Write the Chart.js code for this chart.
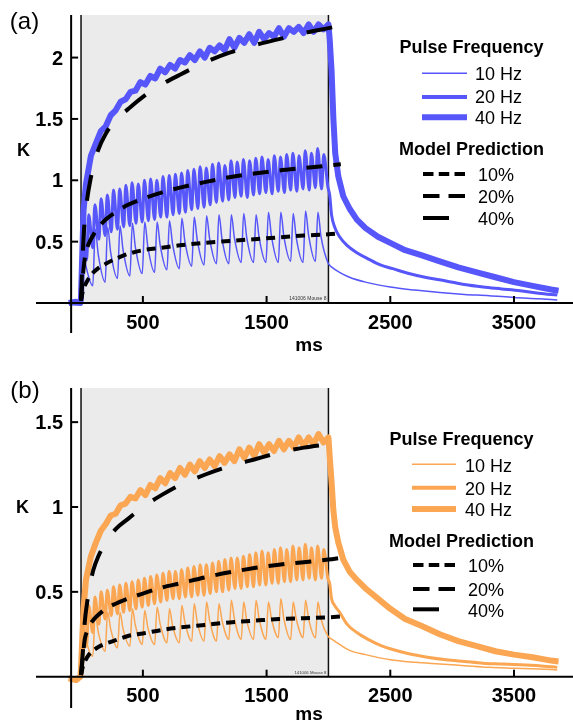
<!DOCTYPE html>
<html><head><meta charset="utf-8">
<script src="https://cdn.jsdelivr.net/npm/chart.js@4.4.1/dist/chart.umd.min.js"></script>
<style>
html,body{margin:0;padding:0;background:#fff;}
#wrap{position:relative;width:573px;height:728px;overflow:hidden;}
canvas{position:absolute;left:0;}
</style></head><body>
<div id="wrap">
<canvas id="ca" width="573" height="364" style="top:0"></canvas>
<canvas id="cb" width="573" height="364" style="top:364px"></canvas>
</div>
<script>
// ---------------- time bases (ms) ----------------
const t10 = [-100,-40,-5,
  15,40,95, 115,140,195, 215,240,295, 315,340,395, 415,440,495,
  515,540,595, 615,640,695, 715,740,795, 815,840,895, 915,940,995,
  1015,1040,1095, 1115,1140,1195, 1215,1240,1295, 1315,1340,1395, 1415,1440,1495,
  1515,1540,1595, 1615,1640,1695, 1715,1740,1795, 1815,1840,1895, 1915,1940,1995,
  2030,2090,2170,2300,2500,2700,2900,3100,3300,3500,3700,3850];
const t20 = [-100,-40,-5,
  12,45, 62,95, 112,145, 162,195, 212,245, 262,295, 312,345, 362,395, 412,445, 462,495,
  512,545, 562,595, 612,645, 662,695, 712,745, 762,795, 812,845, 862,895, 912,945, 962,995,
  1012,1045, 1062,1095, 1112,1145, 1162,1195, 1212,1245, 1262,1295, 1312,1345, 1362,1395, 1412,1445, 1462,1495,
  1512,1545, 1562,1595, 1612,1645, 1662,1695, 1712,1745, 1762,1795, 1812,1845, 1862,1895, 1912,1945, 1962,1995,
  2010,2025,2050,2090,2150,2230,2320,2420,2520,2650,2800,2950,3100,3250,3400,3550,3700,3850];
const t40 = [-100,-40,-5,
  0,20,40,80,120,160,200,240,280,320,360,400,440,480,520,560,600,640,680,720,760,800,840,880,920,960,1000,
  1040,1080,1120,1160,1200,1240,1280,1320,1360,1400,1440,1480,1520,1560,1600,1640,1680,1720,1760,1800,1840,1880,1920,1960,2000,
  2010,2025,2040,2055,2080,2120,2170,2230,2300,2400,2500,2620,2750,2900,3050,3200,3350,3500,3650,3800,3860];
const tModel = [0,15,30,50,75,100,140,200,280,380,500,650,800,1000,1200,1400,1600,1800,2000,2100];

// ---------------- panel (a) values ----------------
const a10Hz = [0,0.01,0,
  0.45,0.30,0.14, 0.60,0.39,0.17, 0.62,0.41,0.20, 0.63,0.43,0.22, 0.65,0.45,0.24,
  0.66,0.46,0.25, 0.66,0.47,0.27, 0.67,0.48,0.28, 0.69,0.50,0.30, 0.70,0.51,0.31,
  0.71,0.52,0.32, 0.72,0.52,0.32, 0.72,0.53,0.33, 0.73,0.53,0.33, 0.72,0.53,0.33,
  0.74,0.54,0.33, 0.74,0.54,0.34, 0.73,0.53,0.33, 0.75,0.55,0.34, 0.74,0.54,0.33,
  0.29,0.25,0.21,0.17,0.13,0.105,0.085,0.07,0.06,0.045,0.035,0.025];
const a20Hz = [0,-0.01,0,
  0.55,0.35, 0.72,0.45, 0.80,0.52, 0.85,0.55, 0.88,0.58, 0.92,0.60, 0.93,0.62, 0.96,0.63, 0.98,0.65, 0.97,0.66,
  1.00,0.67, 1.01,0.68, 1.00,0.70, 1.03,0.70, 1.04,0.72, 1.05,0.73, 1.06,0.74, 1.08,0.76, 1.09,0.77, 1.11,0.78,
  1.10,0.80, 1.13,0.82, 1.14,0.83, 1.12,0.84, 1.16,0.86, 1.15,0.87, 1.17,0.86, 1.16,0.88, 1.18,0.89, 1.19,0.90,
  1.17,0.89, 1.20,0.91, 1.19,0.90, 1.21,0.92, 1.22,0.91, 1.20,0.93, 1.24,0.92, 1.22,0.94, 1.26,0.93, 1.21,0.95,
  0.88,0.72,0.62,0.54,0.47,0.41,0.36,0.31,0.28,0.24,0.205,0.18,0.15,0.13,0.115,0.10,0.08,0.065];
const a40Hz = [0,0.01,0,
  0.05,0.75,0.97,1.20,1.30,1.40,1.44,1.53,1.57,1.64,1.66,1.72,1.73,1.80,1.78,1.85,1.83,1.91,1.88,1.94,1.91,1.98,1.96,2.02,1.98,2.05,2.00,
  2.08,2.05,2.10,2.06,2.15,2.08,2.16,2.12,2.19,2.12,2.21,2.15,2.20,2.17,2.24,2.17,2.24,2.21,2.25,2.20,2.27,2.21,2.27,2.23,2.27,
  2.15,1.90,1.50,1.22,1.03,0.87,0.77,0.68,0.61,0.54,0.49,0.43,0.39,0.34,0.29,0.25,0.21,0.17,0.14,0.11,0.10];
const aModel10 = [0.02,0.10,0.14,0.18,0.22,0.25,0.285,0.32,0.36,0.40,0.43,0.45,0.47,0.49,0.505,0.52,0.535,0.55,0.56,0.57];
const aModel20 = [0.02,0.22,0.36,0.45,0.51,0.555,0.615,0.68,0.74,0.80,0.85,0.90,0.94,0.985,1.025,1.055,1.08,1.10,1.12,1.13];
const aModel40 = [0.02,0.42,0.68,0.85,1.00,1.11,1.25,1.38,1.49,1.58,1.68,1.78,1.86,1.96,2.04,2.10,2.15,2.20,2.24,2.26];

// ---------------- panel (b) values ----------------
const b10Hz = [0,-0.02,0,
  0.33,0.22,0.12, 0.37,0.26,0.15, 0.38,0.28,0.17, 0.38,0.28,0.18, 0.40,0.30,0.19,
  0.39,0.29,0.19, 0.41,0.31,0.20, 0.40,0.30,0.20, 0.42,0.32,0.21, 0.43,0.32,0.21,
  0.44,0.33,0.21, 0.43,0.33,0.22, 0.45,0.34,0.22, 0.44,0.33,0.22, 0.45,0.34,0.22,
  0.44,0.34,0.23, 0.46,0.34,0.22, 0.44,0.34,0.23, 0.45,0.34,0.23, 0.44,0.34,0.24,
  0.22,0.19,0.155,0.13,0.10,0.085,0.075,0.065,0.055,0.05,0.045,0.04];
const b20Hz = [0,-0.02,0,
  0.30,0.18, 0.42,0.26, 0.47,0.31, 0.50,0.34, 0.51,0.36, 0.53,0.37, 0.54,0.38, 0.55,0.39, 0.56,0.40, 0.57,0.41,
  0.58,0.42, 0.59,0.43, 0.60,0.44, 0.61,0.45, 0.62,0.46, 0.62,0.46, 0.63,0.47, 0.64,0.47, 0.65,0.48, 0.66,0.48,
  0.66,0.49, 0.67,0.50, 0.68,0.50, 0.69,0.51, 0.70,0.52, 0.70,0.52, 0.71,0.53, 0.72,0.53, 0.73,0.54, 0.74,0.54,
  0.73,0.55, 0.75,0.55, 0.76,0.56, 0.75,0.56, 0.77,0.57, 0.76,0.57, 0.78,0.58, 0.76,0.57, 0.77,0.58, 0.75,0.58,
  0.55,0.46,0.42,0.38,0.31,0.26,0.22,0.185,0.16,0.135,0.115,0.10,0.09,0.08,0.075,0.07,0.065,0.055];
const b40Hz = [-0.01,-0.02,0,
  0.05,0.40,0.57,0.71,0.79,0.86,0.90,0.95,0.96,1.01,1.02,1.06,1.05,1.10,1.07,1.13,1.11,1.17,1.14,1.20,1.17,1.23,1.19,1.25,1.21,1.27,1.23,
  1.28,1.24,1.30,1.26,1.31,1.27,1.34,1.29,1.35,1.30,1.37,1.32,1.37,1.33,1.39,1.34,1.39,1.35,1.41,1.36,1.41,1.37,1.43,1.38,1.41,
  1.30,1.15,0.98,0.88,0.79,0.69,0.62,0.57,0.52,0.46,0.40,0.34,0.30,0.25,0.21,0.18,0.15,0.13,0.115,0.095,0.09];
const bModel10 = [0.01,0.06,0.09,0.115,0.14,0.155,0.175,0.195,0.215,0.24,0.255,0.275,0.29,0.305,0.32,0.33,0.34,0.345,0.35,0.355];
const bModel20 = [0.01,0.12,0.22,0.27,0.31,0.335,0.365,0.40,0.43,0.46,0.49,0.525,0.55,0.585,0.615,0.64,0.66,0.675,0.69,0.70];
const bModel40 = [0.01,0.15,0.32,0.44,0.55,0.63,0.71,0.79,0.87,0.93,1.00,1.07,1.13,1.19,1.24,1.28,1.32,1.35,1.37,null];

// ---------------- labels / ticks ----------------
const xTickValues = [500,1500,2500,3500];
const aYTicks = [0.5,1,1.5,2];
const bYTicks = [0.5,1,1.5];
const freqLabels = ['10 Hz','20 Hz','40 Hz'];
const modelLabels = ['10%','20%','40%'];
const stimWindow = [0,2000];
const noteText = '141006 Mouse 8';

// ---------------- styling ----------------
const BLUE = 'rgb(86,86,250)';
const ORANGE = 'rgb(250,166,82)';
const FONT = '"Liberation Sans", Arial, Helvetica, sans-serif';
const traceWidths = [1.5, 3, 6];
const legendWidths = [1.5, 4, 6];
const modelDash = [[9,6],[16,11],[26,24]];
const legendDash = [[10.5,5.25],[16.5,9],[]];
const legendDashLen = [42,42,26];

const pts = (xs, ys) => xs.map((x, i) => ({x: x, y: ys[i]}));

function buildDatasets(color, v10, v20, v40, m10, m20, m40) {
  const trace = (xs, ys, w, ord, smooth) => ({
    data: pts(xs, ys), borderColor: color, borderWidth: w, pointRadius: 0,
    cubicInterpolationMode: smooth ? 'monotone' : 'default', tension: 0,
    borderJoinStyle: 'round', order: ord
  });
  const model = (ys, k) => ({
    data: pts(tModel, ys), borderColor: '#000', borderWidth: 4, pointRadius: 0,
    cubicInterpolationMode: 'monotone', borderDash: modelDash[k], borderCapStyle: 'butt', order: 0
  });
  return [
    model(m10, 0), model(m20, 1), model(m40, 2),
    trace(t10, v10, traceWidths[0], 3, true),
    trace(t20, v20, traceWidths[1], 2, true),
    trace(t40, v40, traceWidths[2], 1, false)
  ];
}

function panelPlugin(cfg) {
  return {
    id: 'panel' + cfg.name,
    beforeDatasetsDraw(chart) {
      const ctx = chart.ctx, ca = chart.chartArea, x = chart.scales.x, y = chart.scales.y;
      const x0 = x.getPixelForValue(stimWindow[0]), x1 = x.getPixelForValue(stimWindow[1]);
      const y0 = y.getPixelForValue(0);
      ctx.save();
      ctx.fillStyle = '#ebebeb';
      ctx.fillRect(x0, ca.top, x1 - x0, y0 - ca.top);
      ctx.strokeStyle = '#111'; ctx.lineWidth = 1.5;
      ctx.beginPath();
      ctx.moveTo(x0, ca.top); ctx.lineTo(x0, y0);
      ctx.moveTo(x1, ca.top); ctx.lineTo(x1, y0);
      ctx.stroke();
      ctx.fillStyle = '#333'; ctx.font = cfg.noteFont + 'px ' + FONT;
      ctx.textAlign = 'right'; ctx.textBaseline = 'alphabetic';
      ctx.fillText(noteText, x1 - 2, y0 - 3);
      ctx.restore();
    },
    afterDatasetsDraw(chart) {
      const ctx = chart.ctx, ca = chart.chartArea, x = chart.scales.x, y = chart.scales.y;
      const y0 = y.getPixelForValue(0);
      const ya = x.getPixelForValue(cfg.yAxisAt);
      ctx.save();
      ctx.strokeStyle = '#000'; ctx.lineWidth = 2;
      ctx.beginPath();
      ctx.moveTo(ca.left, y0); ctx.lineTo(ca.right, y0);
      ctx.moveTo(ya, ca.top); ctx.lineTo(ya, ca.bottom);
      ctx.stroke();
      ctx.fillStyle = '#000';
      ctx.font = 'bold 20px ' + FONT;
      ctx.textAlign = 'center'; ctx.textBaseline = 'alphabetic';
      xTickValues.forEach(t => {
        const px = x.getPixelForValue(t);
        ctx.beginPath(); ctx.moveTo(px, y0); ctx.lineTo(px, y0 - 7); ctx.stroke();
        ctx.fillText(String(t), px, y0 + cfg.xLabelDy);
      });
      ctx.textAlign = 'right';
      cfg.yTicks.forEach(v => {
        const py = y.getPixelForValue(v);
        ctx.beginPath(); ctx.moveTo(ya, py); ctx.lineTo(ya + 7, py); ctx.stroke();
        ctx.fillText(String(v), ya - 8, py + 7.2);
      });
      ctx.font = 'bold 18px ' + FONT; ctx.textAlign = 'center'; ctx.textBaseline = 'middle';
      ctx.fillText('K', cfg.kPos[0], cfg.kPos[1]);
      ctx.textBaseline = 'alphabetic';
      ctx.font = 'bold 19px ' + FONT;
      ctx.fillText('ms', cfg.msPos[0], cfg.msPos[1]);
      ctx.font = '24px ' + FONT; ctx.textAlign = 'center';
      ctx.fillText(cfg.letter, cfg.letterPos[0], cfg.letterPos[1]);
      const L = cfg.legend;
      ctx.font = 'bold 18px ' + FONT; ctx.textAlign = 'center';
      ctx.fillText('Pulse Frequency', L.titleX, L.freqTitleY);
      ctx.fillText('Model Prediction', L.titleX, L.modelTitleY);
      ctx.font = '18px ' + FONT; ctx.textAlign = 'left';
      freqLabels.forEach((s, i) => {
        ctx.strokeStyle = cfg.color; ctx.lineWidth = legendWidths[i]; ctx.setLineDash([]);
        ctx.beginPath(); ctx.moveTo(L.freqLineX[0], L.freqLineY[i]); ctx.lineTo(L.freqLineX[1], L.freqLineY[i]); ctx.stroke();
        ctx.fillText(s, L.freqTextX, L.freqTextY[i]);
      });
      modelLabels.forEach((s, i) => {
        ctx.strokeStyle = '#000'; ctx.lineWidth = 4; ctx.lineCap = 'butt'; ctx.setLineDash(legendDash[i]);
        ctx.beginPath(); ctx.moveTo(L.modelLineX, L.modelLineY[i]); ctx.lineTo(L.modelLineX + legendDashLen[i], L.modelLineY[i]); ctx.stroke();
        ctx.fillText(s, L.modelTextX, L.modelTextY[i]);
      });
      ctx.setLineDash([]);
      ctx.restore();
    }
  };
}

function makeChart(id, datasets, yMin, yMax, pad, cfg) {
  return new Chart(document.getElementById(id), {
    type: 'line',
    data: { datasets: datasets },
    options: {
      responsive: false, animation: false, devicePixelRatio: 1,
      layout: { padding: pad },
      plugins: { legend: { display: false }, tooltip: { enabled: false } },
      scales: {
        x: { type: 'linear', min: -364, max: 3977, display: false },
        y: { type: 'linear', min: yMin, max: yMax, display: false }
      },
      elements: { point: { radius: 0 } }
    },
    plugins: [panelPlugin(cfg)]
  });
}

makeChart('ca', buildDatasets(BLUE, a10Hz, a20Hz, a40Hz, aModel10, aModel20, aModel40),
  -0.2445, 2.347, {left: 36, right: 0, top: 15, bottom: 31},
  { name: 'a', letter: '(a)', letterPos: [24.5, 28.5], color: BLUE, yAxisAt: -80, yTicks: aYTicks,
    xLabelDy: 26, kPos: [23.5, 151], msPos: [309, 351], noteFont: 5,
    legend: { titleX: 471.5, freqTitleY: 53.4, modelTitleY: 155,
      freqLineX: [422, 467], freqLineY: [73.3, 97, 117.3], freqTextX: 475, freqTextY: [80, 103.3, 124.3],
      modelLineX: 423, modelLineY: [174, 196, 218], modelTextX: 478, modelTextY: [180.7, 203.3, 225] } });

makeChart('cb', buildDatasets(ORANGE, b10Hz, b20Hz, b40Hz, bModel10, bModel20, bModel40),
  -0.1844, 1.7012, {left: 36, right: 0, top: 24, bottom: 20},
  { name: 'b', letter: '(b)', letterPos: [25, 34], color: ORANGE, yAxisAt: -80, yTicks: bYTicks,
    xLabelDy: 25.6, kPos: [22.5, 144.3], msPos: [309, 356], noteFont: 4.3,
    legend: { titleX: 461.5, freqTitleY: 81, modelTitleY: 182.7,
      freqLineX: [412, 456], freqLineY: [100.3, 123.7, 145], freqTextX: 465, freqTextY: [107.7, 131, 152],
      modelLineX: 413, modelLineY: [201, 225, 245.3], modelTextX: 468, modelTextY: [208.3, 231.7, 252.7] } });
</script>
</body></html>
